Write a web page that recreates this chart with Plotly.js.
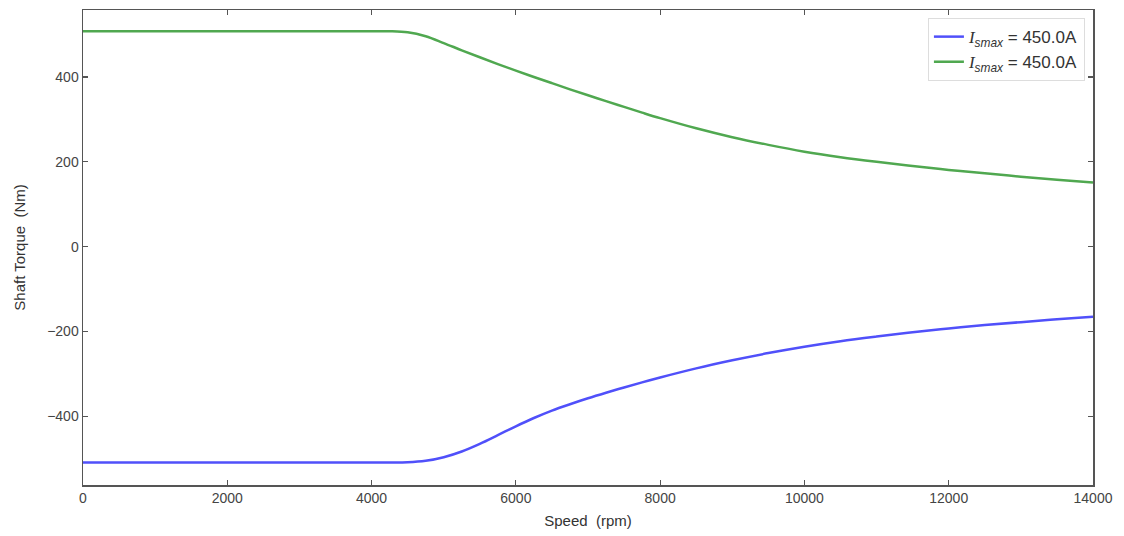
<!DOCTYPE html>
<html>
<head>
<meta charset="utf-8">
<script src="https://cdn.plot.ly/plotly-3.0.1.min.js"></script>
<style>html,body{margin:0;padding:0;background:#fff;}#chart{width:1124px;height:536px;}</style>
</head>
<body>
<div id="chart"></div>
<script>
// Speed (rpm) and shaft torque (Nm)
const speed = [0, 1000, 2000, 3000, 4000, 4250, 4500, 4750, 5000, 5250, 5500, 5750, 6000, 6250, 6500, 6750, 7000, 7250, 7500, 7750, 8000, 8500, 9000, 9500, 10000, 10500, 11000, 11500, 12000, 12500, 13000, 13500, 14000];
const torqueGen = [-509, -509, -509, -509, -509, -509, -508.5, -505, -496.5, -483, -465, -444.5, -423.5, -404, -386.5, -371.5, -357.5, -344.5, -332, -320, -308.5, -287, -268, -251, -236, -223, -212, -202, -193, -185, -178, -171, -165];
const torqueMot = [508, 508, 508, 508, 508, 508, 505.5, 496, 480, 463, 446.5, 430.5, 415, 400, 385.5, 371, 357, 343, 329.5, 316, 303, 279, 258, 240, 224, 211, 200, 190, 181, 173, 165, 158, 151];

const seriesNames = [
  '<span style="font-family:Liberation Serif;font-style:italic">I</span><sub><i>smax</i></sub> = 450.0A',
  '<span style="font-family:Liberation Serif;font-style:italic">I</span><sub><i>smax</i></sub> = 450.0A'
];
const xTicks = [0, 2000, 4000, 6000, 8000, 10000, 12000, 14000];
const yTicks = [-400, -200, 0, 200, 400];

const font = 'Liberation Sans, Arial, sans-serif';

const traces = [
  {x: speed, y: torqueGen, mode: 'lines', name: seriesNames[0],
   line: {color: 'rgb(80,80,250)', width: 2.5, shape: 'spline', smoothing: 1}},
  {x: speed, y: torqueMot, mode: 'lines', name: seriesNames[1],
   line: {color: 'rgb(80,168,80)', width: 2.5, shape: 'spline', smoothing: 1}}
];

const axisCommon = {
  showgrid: false, zeroline: false, showline: true, mirror: 'ticks',
  linecolor: '#555', linewidth: 1.5, ticks: 'inside', ticklen: 5, tickwidth: 1.2,
  tickcolor: '#555', tickfont: {family: font, size: 14, color: '#444'}
};

const layout = {
  width: 1124, height: 536,
  margin: {l: 83, r: 31, t: 10, b: 51},
  paper_bgcolor: '#fff', plot_bgcolor: '#fff',
  font: {family: font, color: '#333'},
  showlegend: true,
  legend: {x: 0.992, y: 0.983, xanchor: 'right', yanchor: 'top',
    bgcolor: 'rgba(255,255,255,0.9)', bordercolor: '#ddd', borderwidth: 1,
    font: {family: font, size: 17, color: '#333'}, tracegroupgap: 2},
  xaxis: Object.assign({}, axisCommon, {
    range: [0, 14000], tickvals: xTicks, ticktext: xTicks.map(String),
    title: {text: 'Speed  (rpm)', font: {family: font, size: 15, color: '#333'}, standoff: 10}
  }),
  yaxis: Object.assign({}, axisCommon, {
    range: [-562, 558], tickvals: yTicks, ticktext: yTicks.map(v => v < 0 ? '\u2212' + Math.abs(v) : String(v)),
    title: {text: 'Shaft Torque  (Nm)', font: {family: font, size: 15, color: '#333'}, standoff: 18}
  })
};

Plotly.newPlot('chart', traces, layout, {displayModeBar: false, staticPlot: true});
</script>
</body>
</html>
